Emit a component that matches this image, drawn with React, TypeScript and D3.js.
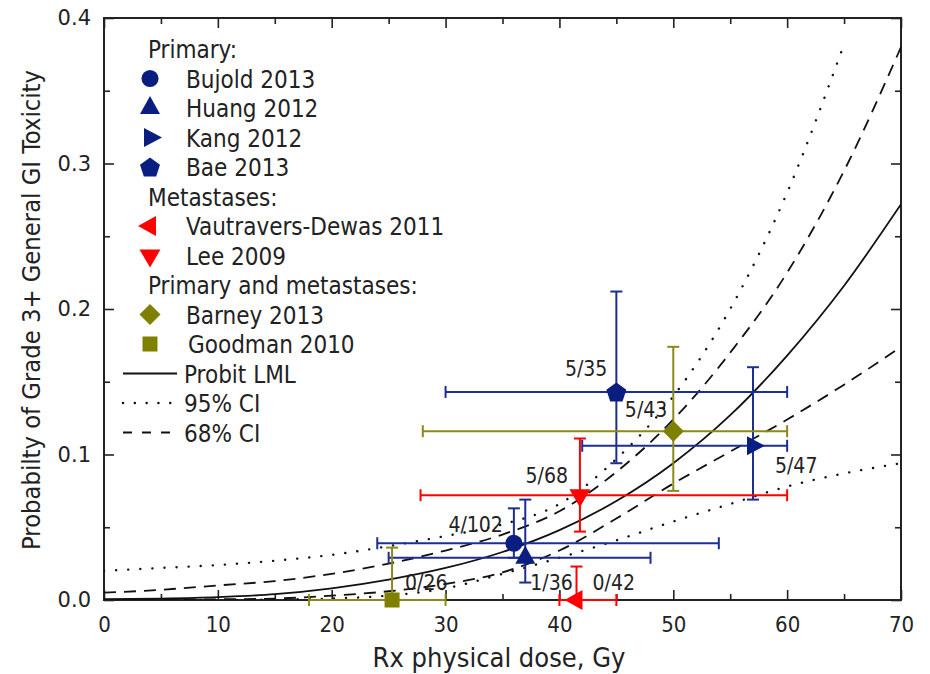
import { useEffect, useRef } from "react"
import * as d3 from "d3"

// fitted curves, every 5 Gy
const doseGrid = [0, 5, 10, 15, 20, 25, 30, 35, 40, 45, 50, 55, 60, 65, 70]
const probitLML = [0.0005, 0.001, 0.002, 0.004, 0.008, 0.014, 0.022, 0.033, 0.048, 0.068, 0.094, 0.127, 0.168, 0.216, 0.272]
const ci68Upper = [0.005, 0.007, 0.01, 0.013, 0.018, 0.025, 0.034, 0.045, 0.061, 0.088, 0.124, 0.17, 0.225, 0.295, 0.38]
const ci68Lower = [0, 0.0002, 0.0005, 0.001, 0.003, 0.006, 0.011, 0.019, 0.034, 0.056, 0.08, 0.102, 0.124, 0.148, 0.174]
const ci95Upper = [0.02, 0.022, 0.024, 0.027, 0.031, 0.037, 0.044, 0.052, 0.066, 0.097, 0.14, 0.2, 0.28, 0.382]
const ci95Lower = [0, 0, 0, 0.0003, 0.001, 0.003, 0.008, 0.018, 0.029, 0.041, 0.054, 0.066, 0.078, 0.087, 0.094]

// study points: dose, probability, and their error ranges
const studyNames = ["Bujold 2013", "Huang 2012", "Kang 2012", "Bae 2013", "Vautravers-Dewas 2011", "Lee 2009", "Barney 2013", "Goodman 2010"]
const studyDose = [36, 37, 57, 45, 41.5, 41.8, 50, 25.3]
const studyProb = [0.039, 0.029, 0.106, 0.143, 0, 0.072, 0.116, 0]
const studyDoseRange = [[24, 54], [25, 48], [42, 60], [30, 60], [40, 45], [27.8, 60], [28, 60], [18, 30]]
const studyProbRange = [[0.029, 0.063], [0.012, 0.069], [0.069, 0.16], [0.094, 0.212], [0, 0.023], [0.047, 0.111], [0.075, 0.174], [0, 0.036]]
const studyCounts = ["4/102", "1/36", "5/47", "5/35", "0/42", "5/68", "5/43", "0/26"]

const xTicks = [0, 10, 20, 30, 40, 50, 60, 70]
const yTicks = [0, 0.1, 0.2, 0.3, 0.4]

const legendRows = [
  { kind: "header", text: "Primary:" },
  { kind: "study", text: "Bujold 2013" },
  { kind: "study", text: "Huang 2012" },
  { kind: "study", text: "Kang 2012" },
  { kind: "study", text: "Bae 2013" },
  { kind: "header", text: "Metastases:" },
  { kind: "study", text: "Vautravers-Dewas 2011" },
  { kind: "study", text: "Lee 2009" },
  { kind: "header", text: "Primary and metastases:" },
  { kind: "study", text: "Barney 2013" },
  { kind: "study", text: "Goodman 2010" },
  { kind: "line", text: "Probit LML" },
  { kind: "line", text: "95% CI" },
  { kind: "line", text: "68% CI" },
]

const NAVY = "#0a1e82"
const NAVY_BAR = "#1c2e90"
const RED = "#ff0000"
const OLIVE = "#7f7f00"
const OLIVE_BAR = "#8a8a1a"

const markerStyle: Record<string, { shape: string; color: string; bar: string }> = {
  "Bujold 2013": { shape: "circle", color: NAVY, bar: NAVY_BAR },
  "Huang 2012": { shape: "up", color: NAVY, bar: NAVY_BAR },
  "Kang 2012": { shape: "right", color: NAVY, bar: NAVY_BAR },
  "Bae 2013": { shape: "pentagon", color: NAVY, bar: NAVY_BAR },
  "Vautravers-Dewas 2011": { shape: "left", color: RED, bar: RED },
  "Lee 2009": { shape: "down", color: RED, bar: RED },
  "Barney 2013": { shape: "diamond", color: OLIVE, bar: OLIVE_BAR },
  "Goodman 2010": { shape: "square", color: OLIVE, bar: OLIVE_BAR },
}

// label placement relative to the marker (pixels)
const labelOffset: Record<string, { dx: number; dy: number; anchor: string }> = {
  "Bujold 2013": { dx: -11, dy: -11, anchor: "end" },
  "Huang 2012": { dx: 5, dy: 32, anchor: "start" },
  "Kang 2012": { dx: 22, dy: 27, anchor: "start" },
  "Bae 2013": { dx: -9, dy: -16, anchor: "end" },
  "Vautravers-Dewas 2011": { dx: 16, dy: -10, anchor: "start" },
  "Lee 2009": { dx: -12, dy: -12, anchor: "end" },
  "Barney 2013": { dx: -6, dy: -14, anchor: "end" },
  "Goodman 2010": { dx: 13, dy: -10, anchor: "start" },
}

const FONT = "'DejaVu Sans Condensed', 'DejaVu Sans', sans-serif"
const DOTS = "0.1 12"

function markerPath(shape: string): string {
  switch (shape) {
    case "circle":
      return d3.symbol(d3.symbolCircle, 230)() || ""
    case "square":
      return "M-7.5,-7.5L7.5,-7.5L7.5,7.5L-7.5,7.5Z"
    case "diamond":
      return "M0,-10.5L10.5,0L0,10.5L-10.5,0Z"
    case "up":
      return "M0,-12L10,6L-10,6Z"
    case "down":
      return "M0,12L10.5,-6L-10.5,-6Z"
    case "right":
      return "M12,0L-6,9.5L-6,-9.5Z"
    case "left":
      return "M-12,0L6,10L6,-10Z"
    case "pentagon": {
      const r = 10.5
      const pts = d3.range(5).map((i) => {
        const a = -Math.PI / 2 + (i * 2 * Math.PI) / 5
        return [r * Math.cos(a), r * Math.sin(a) + 1]
      })
      return "M" + pts.map((p) => p.join(",")).join("L") + "Z"
    }
  }
  return ""
}

const ToxicityChart = () => {
  const svgRef = useRef<SVGSVGElement>(null)

  useEffect(() => {
    if (!svgRef.current) return
    const svg = d3.select(svgRef.current)
    svg.selectAll("*").remove()

    const left = 104
    const right = 901
    const top = 18
    const bottom = 600

    const x = d3.scaleLinear().domain([0, 70]).range([left, right])
    const y = d3.scaleLinear().domain([0, 0.4]).range([bottom, top])

    svg.append("defs")
      .append("clipPath")
      .attr("id", "plot-clip")
      .append("rect")
      .attr("x", left)
      .attr("y", top)
      .attr("width", right - left)
      .attr("height", bottom - top)

    // major / minor ticks on all four sides, pointing inward
    const minorX = d3.range(5, 70, 10)
    const minorY = [0.05, 0.15, 0.25, 0.35]

    const bottomAxis = svg.append("g").attr("transform", `translate(0,${bottom})`)
      .call(d3.axisBottom(x).tickValues(xTicks).tickSizeInner(-10).tickSizeOuter(0).tickPadding(16).tickFormat(d3.format("d")))
    bottomAxis.select(".domain").remove()
    bottomAxis.selectAll("text").attr("font-family", FONT).attr("font-size", 22).attr("fill", "#222")

    svg.append("g").attr("transform", `translate(0,${bottom})`)
      .call(d3.axisBottom(x).tickValues(minorX).tickSizeInner(-6).tickSizeOuter(0).tickFormat(() => ""))
      .select(".domain").remove()

    svg.append("g").attr("transform", `translate(0,${top})`)
      .call(d3.axisTop(x).tickValues(xTicks).tickSizeInner(-10).tickSizeOuter(0).tickFormat(() => ""))
      .select(".domain").remove()
    svg.append("g").attr("transform", `translate(0,${top})`)
      .call(d3.axisTop(x).tickValues(minorX).tickSizeInner(-6).tickSizeOuter(0).tickFormat(() => ""))
      .select(".domain").remove()

    const leftAxis = svg.append("g").attr("transform", `translate(${left},0)`)
      .call(d3.axisLeft(y).tickValues(yTicks).tickSizeInner(-10).tickSizeOuter(0).tickPadding(13).tickFormat(d3.format(".1f")))
    leftAxis.select(".domain").remove()
    leftAxis.selectAll("text").attr("font-family", "'DejaVu Sans', sans-serif").attr("font-size", 21).attr("fill", "#222")

    svg.append("g").attr("transform", `translate(${left},0)`)
      .call(d3.axisLeft(y).tickValues(minorY).tickSizeInner(-6).tickSizeOuter(0).tickFormat(() => ""))
      .select(".domain").remove()
    svg.append("g").attr("transform", `translate(${right},0)`)
      .call(d3.axisRight(y).tickValues(yTicks).tickSizeInner(-10).tickSizeOuter(0).tickFormat(() => ""))
      .select(".domain").remove()
    svg.append("g").attr("transform", `translate(${right},0)`)
      .call(d3.axisRight(y).tickValues(minorY).tickSizeInner(-6).tickSizeOuter(0).tickFormat(() => ""))
      .select(".domain").remove()

    svg.selectAll(".tick line").attr("stroke", "#222").attr("stroke-width", 1.6)

    // frame
    svg.append("rect")
      .attr("x", left)
      .attr("y", top)
      .attr("width", right - left)
      .attr("height", bottom - top)
      .attr("fill", "none")
      .attr("stroke", "#222")
      .attr("stroke-width", 2)

    // axis titles
    svg.append("text")
      .attr("x", 499)
      .attr("y", 667)
      .attr("text-anchor", "middle")
      .attr("font-family", FONT)
      .attr("font-size", 27)
      .attr("fill", "#222")
      .text("Rx physical dose, Gy")

    svg.append("text")
      .attr("transform", `translate(40,310) rotate(-90)`)
      .attr("text-anchor", "middle")
      .attr("font-family", FONT)
      .attr("font-size", 25.3)
      .attr("fill", "#222")
      .text("Probabilty of Grade 3+ General GI Toxicity")

    // curves
    const line = d3.line<[number, number]>()
      .x((d) => x(d[0]))
      .y((d) => y(d[1]))
      .curve(d3.curveMonotoneX)

    const curves = [
      { values: ci95Upper, dash: DOTS },
      { values: ci95Lower, dash: DOTS },
      { values: ci68Upper, dash: "12 8" },
      { values: ci68Lower, dash: "12 8" },
      { values: probitLML, dash: null },
    ]

    const curveGroup = svg.append("g").attr("clip-path", "url(#plot-clip)")
    curves.forEach((c) => {
      const pts = c.values.map((v, i) => [doseGrid[i], v] as [number, number])
      curveGroup.append("path")
        .attr("d", line(pts))
        .attr("fill", "none")
        .attr("stroke", "#111")
        .attr("stroke-width", c.dash === DOTS ? 2.4 : 1.8)
        .attr("stroke-linecap", c.dash === DOTS ? "round" : "butt")
        .attr("stroke-dasharray", c.dash)
    })

    // error bars
    const cap = 6
    const bars = svg.append("g")
    studyNames.forEach((name, i) => {
      const st = markerStyle[name]
      const cx = x(studyDose[i])
      const cy = y(studyProb[i])
      const [d0, d1] = studyDoseRange[i]
      const [p0, p1] = studyProbRange[i]
      const g = bars.append("g").attr("stroke", st.bar).attr("stroke-width", 2).attr("fill", "none")
      g.append("line").attr("x1", x(d0)).attr("x2", x(d1)).attr("y1", cy).attr("y2", cy)
      g.append("line").attr("x1", x(d0)).attr("x2", x(d0)).attr("y1", cy - cap).attr("y2", cy + cap)
      g.append("line").attr("x1", x(d1)).attr("x2", x(d1)).attr("y1", cy - cap).attr("y2", cy + cap)
      g.append("line").attr("x1", cx).attr("x2", cx).attr("y1", y(p0)).attr("y2", y(p1))
      g.append("line").attr("x1", cx - cap).attr("x2", cx + cap).attr("y1", y(p1)).attr("y2", y(p1))
      if (p0 > 0) {
        g.append("line").attr("x1", cx - cap).attr("x2", cx + cap).attr("y1", y(p0)).attr("y2", y(p0))
      }
    })

    // markers and counts
    studyNames.forEach((name, i) => {
      const st = markerStyle[name]
      const cx = x(studyDose[i])
      const cy = y(studyProb[i])
      svg.append("path")
        .attr("d", markerPath(st.shape))
        .attr("transform", `translate(${cx},${cy})`)
        .attr("fill", st.color)
      const lo = labelOffset[name]
      svg.append("text")
        .attr("x", cx + lo.dx)
        .attr("y", cy + lo.dy)
        .attr("text-anchor", lo.anchor)
        .attr("font-family", FONT)
        .attr("font-size", 21)
        .attr("fill", "#222")
        .text(studyCounts[i])
    })

    // legend
    const legend = svg.append("g")
    const lineDash: Record<string, string | null> = { "Probit LML": null, "95% CI": "0.1 11.7", "68% CI": "9 10" }
    legendRows.forEach((row, i) => {
      const base = 58 + i * 29.5
      if (row.kind === "header") {
        legend.append("text")
          .attr("x", 148)
          .attr("y", base)
          .attr("font-family", FONT)
          .attr("font-size", 24)
          .attr("fill", "#222")
          .text(row.text)
        return
      }
      if (row.kind === "study") {
        const st = markerStyle[row.text]
        legend.append("path")
          .attr("d", markerPath(st.shape))
          .attr("transform", `translate(150,${base - 9})`)
          .attr("fill", st.color)
      } else {
        const dash = lineDash[row.text]
        const dotted = dash === "0.1 11.7"
        legend.append("line")
          .attr("x1", 123)
          .attr("x2", 177)
          .attr("y1", base - 9)
          .attr("y2", base - 9)
          .attr("stroke", "#111")
          .attr("stroke-width", dotted ? 2.4 : 1.8)
          .attr("stroke-linecap", dotted ? "round" : "butt")
          .attr("stroke-dasharray", dash)
      }
      legend.append("text")
        .attr("x", row.kind === "line" ? 184 : row.text === "Goodman 2010" ? 188 : 186)
        .attr("y", base)
        .attr("font-family", FONT)
        .attr("font-size", 24)
        .attr("fill", "#222")
        .text(row.text)
    })
  }, [])

  return (
    <svg
      ref={svgRef}
      width={930}
      height={674}
      style={{ position: "absolute", left: 0, top: 0, background: "white" }}
    />
  )
}

export default function App() {
  return <ToxicityChart />
}
